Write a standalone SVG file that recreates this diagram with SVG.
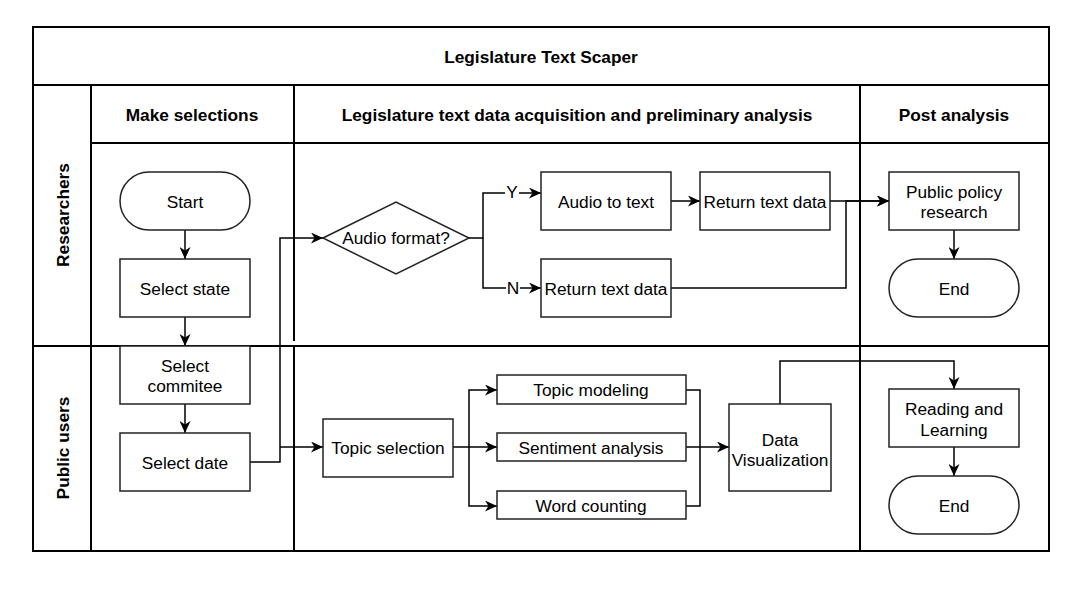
<svg xmlns="http://www.w3.org/2000/svg" width="1072" height="592" viewBox="0 0 1072 592">
<defs>
<marker id="arr" markerWidth="13" markerHeight="11" refX="12" refY="5.5" orient="auto" markerUnits="userSpaceOnUse">
<path d="M0,0 L12,5.5 L0,11 L3.5,5.5 z" fill="#000"/>
</marker>
</defs>
<style>
.pool{fill:none;stroke:#000;stroke-width:2}
.n{fill:#fff;stroke:#222;stroke-width:1.5}
.c{fill:none;stroke:#000;stroke-width:1.5}
.ca{fill:none;stroke:#000;stroke-width:1.5;marker-end:url(#arr)}
text{font-family:"Liberation Sans",Arial,sans-serif;font-size:17.3px;fill:#000;text-anchor:middle;dominant-baseline:central}
.h{font-weight:bold}
</style>
<rect width="1072" height="592" fill="#fff"/>
<g id="pool">
<rect class="pool" x="33" y="27" width="1016" height="524"/>
<line class="pool" x1="33" y1="85" x2="1049" y2="85"/>
<line class="pool" x1="91" y1="143" x2="1049" y2="143"/>
<line class="pool" x1="33" y1="346" x2="1049" y2="346"/>
<line class="pool" x1="91" y1="85" x2="91" y2="551"/>
<line class="pool" x1="294" y1="85" x2="294" y2="341"/>
<line class="pool" x1="294" y1="346" x2="294" y2="551"/>
<line class="pool" x1="860" y1="85" x2="860" y2="551"/>
<text class="h" x="541" y="57">Legislature Text Scaper</text>
<text class="h" x="192" y="115">Make selections</text>
<text class="h" x="577" y="115">Legislature text data acquisition and preliminary analysis</text>
<text class="h" x="954" y="115">Post analysis</text>
<text class="h" transform="translate(63,215) rotate(-90)">Researchers</text>
<text class="h" transform="translate(63,448) rotate(-90)">Public users</text>
</g>
<g id="connectors">
<line class="ca" x1="185" y1="230" x2="185" y2="259"/>
<line class="ca" x1="185" y1="317" x2="185" y2="346"/>
<line class="ca" x1="185" y1="404" x2="185" y2="433"/>
<polyline class="ca" points="250,462 280,462 280,238 323,238"/>
<polyline class="ca" points="280,447 323,447"/>
<polyline class="ca" points="469,238 483,238 483,193 541,193"/>
<polyline class="ca" points="483,238 483,288 541,288"/>
<line class="ca" x1="671" y1="201" x2="700" y2="201"/>
<line class="ca" x1="830" y1="201" x2="889" y2="201"/>
<polyline class="ca" points="671,288 846,288 846,201 889,201"/>
<line class="ca" x1="954" y1="230" x2="954" y2="259"/>
<polyline class="ca" points="453,447 469,447 469,390 497,390"/>
<line class="ca" x1="469" y1="447" x2="497" y2="447"/>
<polyline class="ca" points="469,447 469,506 497,506"/>
<polyline class="c" points="686,390 700,390 700,506 686,506"/>
<polyline class="ca" points="686,447 729,447"/>
<polyline class="ca" points="780,404 780,361 954,361 954,389"/>
<line class="ca" x1="954" y1="447" x2="954" y2="476"/>
<rect x="505" y="183" width="14" height="20" fill="#fff"/>
<text x="512" y="192">Y</text>
<rect x="506" y="278" width="14" height="20" fill="#fff"/>
<text x="513" y="288">N</text>
</g>
<g id="start"><rect class="n" x="120" y="172" width="130" height="58" rx="29"/><text x="185" y="202">Start</text></g>
<g id="select-state"><rect class="n" x="120" y="259" width="130" height="58"/><text x="185" y="289">Select state</text></g>
<g id="select-commitee"><rect class="n" x="120" y="346" width="130" height="58"/><text x="185" y="366">Select</text><text x="185" y="386">commitee</text></g>
<g id="select-date"><rect class="n" x="120" y="433" width="130" height="58"/><text x="185" y="463">Select date</text></g>
<g id="audio-format"><polygon class="n" points="323,238 396,202 469,238 396,274"/><text x="396" y="238">Audio format?</text></g>
<g id="audio-to-text"><rect class="n" x="541" y="172" width="130" height="58"/><text x="606" y="202">Audio to text</text></g>
<g id="return-text-1"><rect class="n" x="700" y="172" width="130" height="58"/><text x="765" y="202">Return text data</text></g>
<g id="return-text-2"><rect class="n" x="541" y="259" width="130" height="58"/><text x="606" y="289">Return text data</text></g>
<g id="public-policy"><rect class="n" x="889" y="172" width="130" height="58"/><text x="954" y="192">Public policy</text><text x="954" y="212">research</text></g>
<g id="end-1"><rect class="n" x="889" y="259" width="130" height="58" rx="29"/><text x="954" y="289">End</text></g>
<g id="topic-selection"><rect class="n" x="323" y="419" width="130" height="58"/><text x="388" y="448">Topic selection</text></g>
<g id="topic-modeling"><rect class="n" x="497" y="375" width="189" height="29"/><text x="591" y="390">Topic modeling</text></g>
<g id="sentiment"><rect class="n" x="497" y="433" width="189" height="28"/><text x="591" y="448">Sentiment analysis</text></g>
<g id="word-counting"><rect class="n" x="497" y="491" width="189" height="28"/><text x="591" y="506">Word counting</text></g>
<g id="data-vis"><rect class="n" x="729" y="404" width="102" height="87"/><text x="780" y="440">Data</text><text x="780" y="460">Visualization</text></g>
<g id="reading"><rect class="n" x="889" y="389" width="130" height="58"/><text x="954" y="409">Reading and</text><text x="954" y="430">Learning</text></g>
<g id="end-2"><rect class="n" x="889" y="476" width="130" height="58" rx="29"/><text x="954" y="506">End</text></g>
</svg>
